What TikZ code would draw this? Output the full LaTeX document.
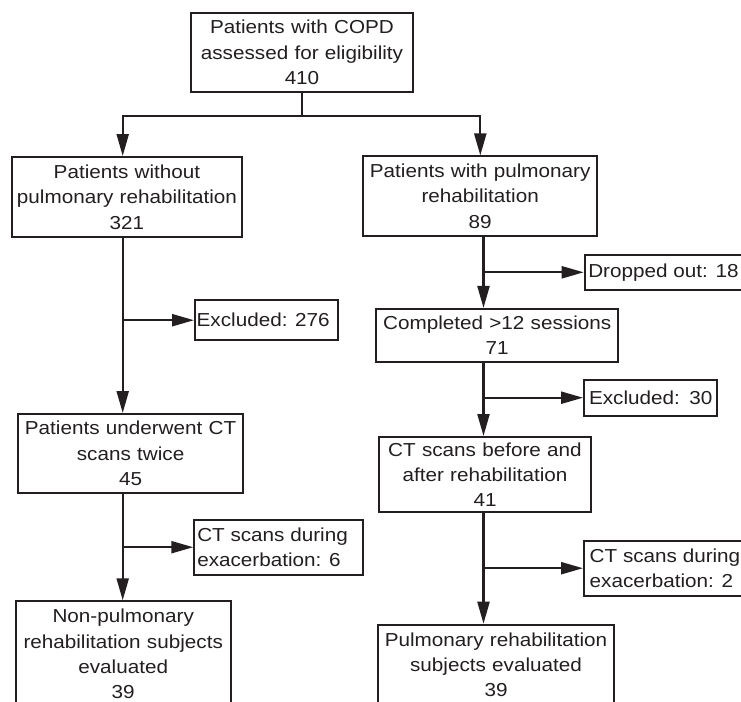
\documentclass[tikz,border=0pt]{standalone}
\usepackage{fontspec}
\setmainfont{Liberation Sans}[FakeStretch=1.1]
\usetikzlibrary{arrows.meta}
\definecolor{ink}{RGB}{35,31,32}
\begin{document}
\begin{tikzpicture}[x=1pt,y=-1pt,
  box/.style={draw=ink, line width=2pt, text=ink, font=\fontsize{18.8}{25.3}\selectfont,
    inner xsep=2pt, inner ysep=0pt, align=center},
  lbox/.style={box, align=flush left},
  arr/.style={draw=ink, line width=2.2pt, -{Triangle[length=22pt,width=12pt]}},
  ln/.style={draw=ink, line width=2.2pt}]
\useasboundingbox (0,0) rectangle (741,701);
\fill[white] (0,0) rectangle (741,701);

% left column
\node[box, text width=218pt, minimum height=79pt] (top) at (302,52.5)
  {Patients with COPD\\assessed for eligibility\\410};
\node[box, text width=226pt, minimum height=80pt] (L1) at (127,197)
  {Patients without\\pulmonary rehabilitation\\321};
\node[lbox, inner xsep=1.7pt, text width=139.6pt, minimum height=39.5pt] (Ex276) at (266.5,320.2)
  {Excluded: 276};
\node[box, text width=220.5pt, minimum height=79pt] (L2) at (130.6,453.5)
  {Patients underwent CT\\scans twice\\45};
\node[lbox, inner xsep=3pt, text width=162.7pt, minimum height=55pt] (CT6) at (278.6,547.2)
  {CT scans during\\exacerbation: 6};
\node[box, text width=211pt, minimum height=105.4pt] (L3) at (123.2,654)
  {Non-pulmonary\\rehabilitation subjects\\evaluated\\39};

% right column
\node[box, text width=230.5pt, minimum height=79.5pt] (R1) at (480.2,196.2)
  {Patients with pulmonary\\rehabilitation\\89};
\node[lbox, inner xsep=3.6pt, text width=152.8pt, minimum height=35.3pt] (Drop) at (664.7,272.3)
  {Dropped out: 18};
\node[box, text width=237.7pt, minimum height=52.7pt] (Comp) at (497.2,335.3)
  {Completed >12 sessions\\71};
\node[box, text width=129.3pt, minimum height=36pt] (Ex30) at (650.7,397.7)
  {Excluded: 30};
\node[box, text width=207.4pt, minimum height=75pt] (CTb) at (485,474.5)
  {CT scans before and\\after rehabilitation\\41};
\node[lbox, inner xsep=5.7pt, text width=158.6pt, minimum height=55pt] (CT2) at (669,568.2)
  {CT scans during\\exacerbation: 2};
\node[box, text width=232pt, minimum height=80pt] (R4) at (496,664.7)
  {Pulmonary rehabilitation\\subjects evaluated\\39};

% guide coordinates
\coordinate (xtl) at (122.7,0);
\coordinate (xtr) at (480.3,0);
\coordinate (xl) at (122.7,0);
\coordinate (xr) at (483.5,0);
\coordinate (j) at (302,115.7);

% connectors
\draw[ln] (top.south) -- (j);
\draw[arr] (j) -| (L1.north -| xtl);
\draw[arr] (j) -| (R1.north -| xtr);

\draw[arr] (L1.south -| xl) -- (L2.north -| xl);
\draw[arr] (xl |- Ex276.west) -- (Ex276.west);
\draw[arr] (L2.south -| xl) -- (L3.north -| xl);
\draw[arr] (xl |- CT6.west) -- (CT6.west);

\draw[arr] (R1.south -| xr) -- (Comp.north -| xr);
\draw[arr] (xr |- Drop.west) -- (Drop.west);
\draw[arr] (Comp.south -| xr) -- (CTb.north -| xr);
\draw[arr] (xr |- Ex30.west) -- (Ex30.west);
\draw[arr] (CTb.south -| xr) -- (R4.north -| xr);
\draw[arr] (xr |- CT2.west) -- (CT2.west);
\end{tikzpicture}
\end{document}
